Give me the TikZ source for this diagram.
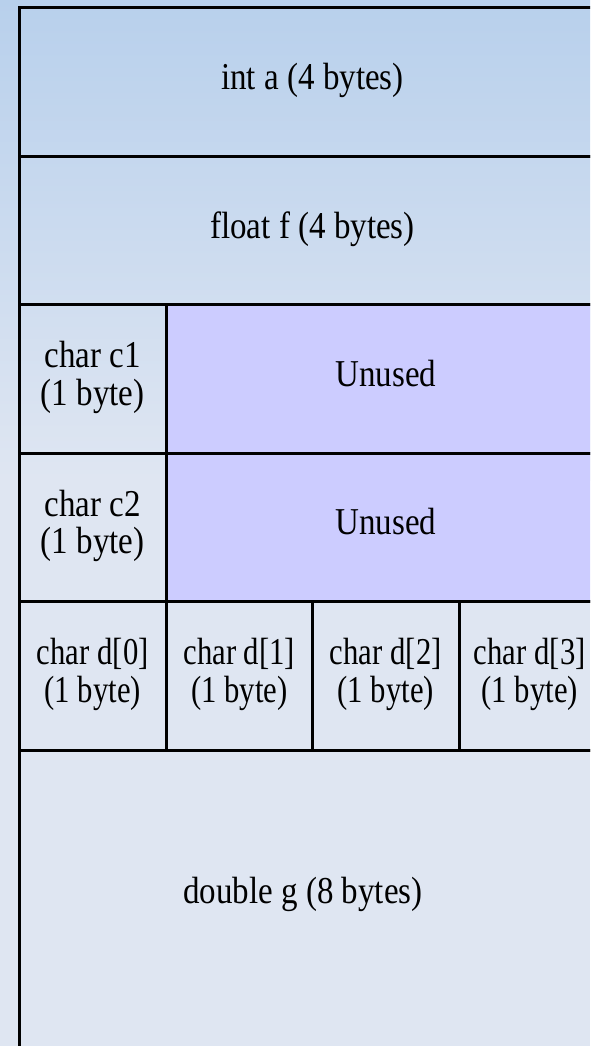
\documentclass[tikz,border=0pt]{standalone}
\usepackage{fontspec}
\setmainfont{Liberation Serif}
\usepackage{graphicx}
\definecolor{bgtop}{HTML}{B8D0EC}
\definecolor{bgbot}{HTML}{DFE6F2}
\definecolor{unused}{HTML}{CCCCFF}
\newcommand{\celltext}[1]{\scalebox{1}[1.15]{\fontsize{33}{32}\selectfont\begin{tabular}{@{}c@{}}#1\end{tabular}}}
\newcommand{\narrowtext}[1]{\scalebox{0.93}[1.15]{\fontsize{33}{32}\selectfont\begin{tabular}{@{}c@{}}#1\end{tabular}}}
\tikzset{
  cell/.style={draw=black, line width=3pt, inner sep=0pt, outer sep=0pt, anchor=north west},
  unusedcell/.style={cell, fill=unused},
}
\begin{document}
\begin{tikzpicture}[x=1pt,y=-1pt]
\useasboundingbox (0,0) rectangle (590,1046);
\fill[top color=bgtop, bottom color=bgbot] (0,0) rectangle (590,480);
\fill[bgbot] (0,479) rectangle (590,1046);
\begin{scope}
\clip (0,0) rectangle (590,1046);
\node[cell, minimum width=586pt, minimum height=148.5pt] (inta) at (19.5,7.5) {};
\node[cell, minimum width=586pt, minimum height=148.5pt] (floatf) at (19.5,156) {};
\node[cell, minimum width=146.5pt, minimum height=148.5pt] (c1) at (19.5,304.5) {};
\node[unusedcell, minimum width=439.5pt, minimum height=148.5pt] (u1) at (166,304.5) {};
\node[cell, minimum width=146.5pt, minimum height=148.5pt] (c2) at (19.5,453) {};
\node[unusedcell, minimum width=439.5pt, minimum height=148.5pt] (u2) at (166,453) {};
\node[cell, minimum width=146.5pt, minimum height=148.5pt] (d0) at (19.5,601.5) {};
\node[cell, minimum width=146.5pt, minimum height=148.5pt] (d1) at (166,601.5) {};
\node[cell, minimum width=146.5pt, minimum height=148.5pt] (d2) at (312.5,601.5) {};
\node[cell, minimum width=146.5pt, minimum height=148.5pt] (d3) at (459,601.5) {};
\node[cell, minimum width=586pt, minimum height=297pt] (dblg) at (19.5,750) {};
\end{scope}
\node (tinta) at (inta.center) {\celltext{int a (4 bytes)}};
\node (tfloatf) at (floatf.center) {\celltext{float f (4 bytes)}};
\node (tc1) at (c1.center) {\celltext{char c1\\(1 byte)}};
\node (tu1) at (u1.center) {\celltext{Unused}};
\node (tc2) at (c2.center) {\celltext{char c2\\(1 byte)}};
\node (tu2) at (u2.center) {\celltext{Unused}};
\node (td0) at (d0.center) {\narrowtext{char d[0]\\(1 byte)}};
\node (td1) at (d1.center) {\narrowtext{char d[1]\\(1 byte)}};
\node (td2) at (d2.center) {\narrowtext{char d[2]\\(1 byte)}};
\node (td3) at ([xshift=-2.5pt]d3.center) {\narrowtext{char d[3]\\(1 byte)}};
\node (tdblg) at (303,896) {\celltext{double g (8 bytes)}};
\end{tikzpicture}
\end{document}
